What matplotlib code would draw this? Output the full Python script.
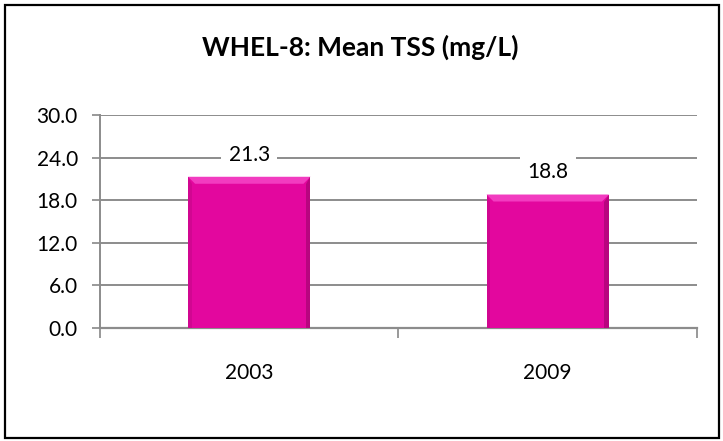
import matplotlib
matplotlib.use("Agg")
import matplotlib.pyplot as plt
from matplotlib.patches import Rectangle, Polygon

plt.rcParams['font.family'] = ['Lato', 'DejaVu Sans']

categories = ["2003", "2009"]
values = [21.3, 18.8]
yticks = [0.0, 6.0, 12.0, 18.0, 24.0, 30.0]
title = "WHEL-8: Mean TSS (mg/L)"

W, H = 723, 441
fig = plt.figure(figsize=(W / 100, H / 100), dpi=100)
fig.patch.set_facecolor('white')

# outer frame
fig.add_artist(Rectangle((5 / W, 3 / H), 714 / W, 433 / H, transform=fig.transFigure,
                         fill=False, edgecolor='black', linewidth=1.6))

ax_w_px, ax_h_px = 597, 213
ax = fig.add_axes([100 / W, 1 - 328 / H, ax_w_px / W, ax_h_px / H])
x = list(range(len(categories)))
bars = ax.bar(x, values, width=0.41, color='#E3079E', edgecolor='none', zorder=3)

ax.set_xlim(-0.5, len(categories) - 0.5)
ax.set_ylim(0, 30)

# bevel shading derived from each bar's geometry
dx = 7 * (len(categories)) / ax_w_px
dy = 7 * 30 / ax_h_px
for b in bars:
    x0, w, h = b.get_x(), b.get_width(), b.get_height()
    x1 = x0 + w
    ax.add_patch(Polygon([(x0, h), (x1, h), (x1 - dx, h - dy), (x0 + dx, h - dy)],
                         closed=True, facecolor='#F23CC0', edgecolor='none', zorder=4))
    ax.add_patch(Polygon([(x1, h), (x1, 0), (x1 - dx * 0.7, 0), (x1 - dx * 0.7, h - dy)],
                         closed=True, facecolor='#B8057F', edgecolor='none', zorder=4))
    ax.add_patch(Polygon([(x0, h), (x0, 0), (x0 + dx * 0.5, 0), (x0 + dx * 0.5, h - dy)],
                         closed=True, facecolor='#D10691', edgecolor='none', zorder=4))

ax.set_yticks(yticks)
ax.set_yticklabels([f"{t:.1f}" for t in yticks], fontsize=15)
ax.set_xticks(x)
ax.set_xticklabels(categories, fontsize=15)
ax.tick_params(axis='x', length=0, pad=25)
ax.tick_params(axis='y', length=6, color='#888888', width=1.2, pad=10)
# category boundary ticks
ax.set_xticks([-0.5, 0.5, 1.5], minor=True)
ax.tick_params(axis='x', which='minor', length=7, color='#888888', width=1.2)

ax.grid(axis='y', color='#8c8c8c', linewidth=1.4, zorder=0)
ax.set_axisbelow(True)
for s in ['top', 'right']:
    ax.spines[s].set_visible(False)
ax.spines['left'].set_color('#8c8c8c')
ax.spines['bottom'].set_color('#8c8c8c')
ax.spines['left'].set_linewidth(1.4)
ax.spines['bottom'].set_linewidth(1.6)

for xi, v in zip(x, values):
    ax.annotate(f"{v:.1f}", (xi, v), xytext=(0, 16), textcoords='offset points',
                ha='center', va='center', fontsize=15,
                bbox=dict(boxstyle='square,pad=0.35', facecolor='white', edgecolor='none'),
                zorder=5)

fig.text(360 / W, 1 - 47 / H, title, ha='center', va='center', fontsize=19, fontweight='bold')

fig.savefig('out.png', dpi=100)
